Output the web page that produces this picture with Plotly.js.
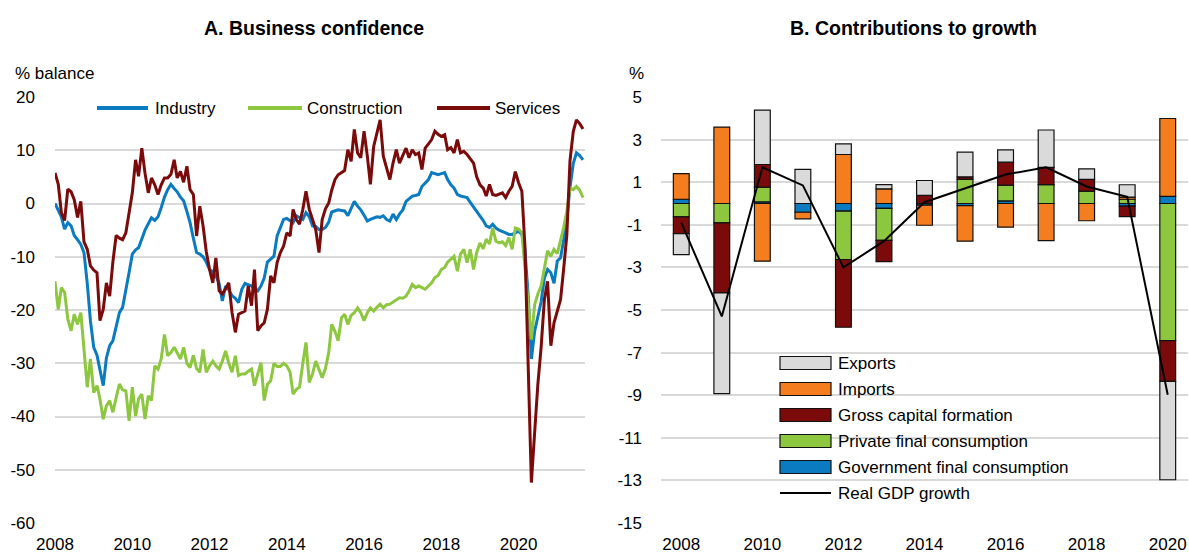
<!DOCTYPE html>
<html>
<head>
<meta charset="utf-8">
<script src="https://cdn.plot.ly/plotly-3.0.1.min.js"></script>
<style>
  body { margin: 0; background: #fff; }
  #chart { width: 1189px; height: 556px; }
</style>
</head>
<body>
<div id="chart"></div>
<script>
// Panel A: business confidence, monthly % balance from Jan 2008
const industry = [
  0, -1.2, -2.5, -4.8, -3.6, -4.2, -6, -6.8, -7.7, -9.2,
  -15, -22, -27, -28.5, -31, -34.2, -29, -26.7, -25.8, -23,
  -20.5, -19.5, -16.5, -13, -9.5, -8.7, -8.3, -6.5, -5, -3.8,
  -2.7, -3.2, -2.5, -0.8, 1.2, 2.6, 3.6, 2.8, 2.2, 1.2,
  0.5, -1.5, -3.6, -6.5, -9.2, -9.5, -10, -11, -12.4, -12.8,
  -13.6, -15, -18.3, -15.5, -16.2, -17.3, -17.8, -18.6, -16.1, -15,
  -15.2, -15.5, -16, -16.4, -15.5, -14, -11, -10.5, -9.9, -6.1,
  -4.5, -3, -2.8, -3.2, -3.6, -2.3, -2.6, -3, -1.7, -2.5,
  -4.2, -4.3, -4.9, -4.9, -4.5, -3.5, -1.6, -1.4, -1.2, -1.3,
  -1.4, -2.3, -1, 0.4, -0.5, -1.2, -2.2, -3.3, -3, -2.7,
  -2.5, -2.6, -2.3, -3, -3.3, -2, -3, -2, -1.2, 0.4,
  0.8, 1.4, 1.5, 1.7, 3.2, 3.8, 4.5, 5.8, 5.6, 5.4,
  5.6, 5.8, 4.5, 3.5, 2.9, 1.7, 1.4, 1.2, 1.1, 0.2,
  -0.6, -1.5, -2.3, -3.2, -4.2, -4.5, -3.9, -4.6, -5, -5.2,
  -5.5, -5.8, -5.8, -5.5, -5.2, -5.8, -8.6, -17.4, -29.2, -24,
  -21, -18.5, -14, -12.4, -13, -15, -10.8, -10.2, -7, -3,
  3, 7.5, 9.5, 9, 8.2
];
const construction = [
  -14.6, -19.9, -15.8, -16.7, -21.7, -23.9, -20.8, -22.7, -20.5, -28,
  -34.5, -29.2, -35.5, -34.2, -36.7, -40.5, -38, -37, -39.2, -36.5,
  -33.9, -35, -35.2, -40.8, -34.5, -39.9, -36.7, -35.8, -40.5, -36.1,
  -37, -30.5, -31.1, -29.2, -24.6, -28.6, -28, -27, -28, -29.2,
  -27, -30, -30.8, -28.5, -31, -31.7, -27.4, -31.7, -30.5, -29.6,
  -30.5, -31.1, -29.6, -27.7, -30, -31.7, -28.6, -32.3, -32, -32,
  -31.5, -31.1, -34.2, -32, -29.9, -37, -34, -33.3, -30, -30.6,
  -30.6, -30, -30.5, -31.7, -35.8, -34.9, -34.5, -30, -26.1, -33.6,
  -32, -29.6, -31, -32.7, -31, -28, -22.7, -24, -25.8, -21.5,
  -20.8, -22.7, -21, -20.5, -19.6, -20.5, -22, -20.5, -19.6, -20.2,
  -19.5, -18.9, -19.6, -19, -18.9, -18.5, -18, -17.7, -17.8, -17.4,
  -16.5, -15.2, -15.8, -15.5, -15.8, -16.1, -15.5, -14.9, -13.9, -13.5,
  -12.4, -12, -11, -10.5, -9.9, -12.7, -9.5, -8.6, -11.1, -8.6,
  -12.4, -9.2, -7.4, -8.5, -6.7, -7.6, -4.6, -7.1, -7.4, -7.2,
  -7.9, -6.4, -8.6, -4.6, -4.8, -5.5, -12, -20, -25.5, -19,
  -17, -15.5, -12, -8.9, -9.9, -8.6, -9.4, -7.1, -4.6, -1.5,
  2.9, 2.6, 3.2, 2.5, 1.1
];
const services = [
  5.75, 3.6, -1.7, -3.2, 2.7, 2.2, 0.7, -2.6, 0.4, -7.2,
  -8.6, -11.7, -12.5, -13, -22, -19.9, -14.9, -17.4, -11, -6,
  -6.5, -6.8, -5.5, -2, 2, 8.2, 5.1, 10.4, 5.7, 2,
  4.8, 3.5, 1.7, 3.5, 4.8, 4.8, 5.5, 8.2, 4.8, 6,
  4, 7, 2.6, 1.7, -6.1, -0.5, -4.2, -9, -12.4, -14.9,
  -10.2, -16.4, -17, -16, -14.9, -20.5, -24.2, -20.8, -20.5, -20.2,
  -15.5, -19.2, -12.4, -23.9, -23, -22.4, -19.9, -13.6, -14.9, -11.1,
  -9.2, -8, -5.5, -6.1, -1.1, -3, -3.9, -1.1, 2.3, -1.1,
  -3, -4.9, -9.2, -3, -1, 0.1, 2.5, 4.5, 5.4, 5.8,
  6.2, 10.1, 7.9, 13.9, 9.5, 8.6, 13.6, 8.9, 3.6, 10.7,
  13, 15.7, 8.9, 6.5, 4.5, 7.6, 10.1, 7.6, 9, 10.4,
  8.6, 10.1, 9.2, 9.5, 6.4, 10.4, 11.2, 12, 13.6, 13,
  12.6, 12.9, 10.1, 10.5, 9.5, 12, 9.5, 9.8, 9.2, 8.4,
  7.6, 5, 3.5, 2.9, 1.4, 3.6, 1.7, 1.5, 1.7, 2,
  1.1, 2.3, 3.2, 6, 3.9, 2.3, -8, -32, -52.4, -43,
  -34, -27, -18, -14.6, -26.7, -22.4, -20, -18, -12.5, -6,
  8, 13.5, 15.7, 15, 14
];

// Panel B: contributions to growth, % points
const years = ['2008', '2009', '2010', '2011', '2012', '2013', '2014',
  '2015', '2016', '2017', '2018', '2019', '2020'];
const govCons = [0.2, null, 0.08, -0.41, -0.36, -0.23, -0.08, -0.1, 0.12, null, null, -0.12, 0.33];
const privCons = [-0.63, -0.91, 0.69, null, -2.27, -1.5, null, 1.13, 0.74, 0.89, 0.58, 0.2, -6.44];
const capForm = [-0.78, -3.29, 1.06, null, -3.18, -1.0, 0.38, 0.12, 1.08, 0.81, 0.55, -0.5, -1.91];
const imports = [1.2, 3.59, -2.71, -0.31, 2.3, 0.69, -0.94, -1.67, -1.11, -1.74, -0.81, 0.1, 3.66];
const exports = [-0.99, -4.73, 2.55, 1.6, 0.5, 0.2, 0.7, 1.16, 0.58, 1.75, 0.5, 0.58, -4.62];
const gdpGrowth = [-0.9, -5.3, 1.7, 0.85, -3.0, -1.77, 0.06, 0.72, 1.36, 1.7, 0.8, 0.31, -8.98];

const yTicksA = [20, 10, 0, -10, -20, -30, -40, -50, -60];
const yTicksB = [5, 3, 1, -1, -3, -5, -7, -9, -11, -13, -15];
const xLabelsA = ['2008', '2010', '2012', '2014', '2016', '2018', '2020'];
const xLabelsB = ['2008', '2010', '2012', '2014', '2016', '2018', '2020'];

const FONT = '"Liberation Sans", Arial, sans-serif';
const FS = 17;

function monthDates(startYear, n) {
  let out = [];
  for (let i = 0; i < n; i++) {
    let y = startYear + Math.floor(i / 12);
    let m = (i % 12) + 1;
    out.push(y + '-' + String(m).padStart(2, '0') + '-01');
  }
  return out;
}

// plotly puts a unicode minus by default, the original has a plain hyphen
function tickText(vals) {
  return vals.map(v => String(v));
}

const months = monthDates(2008, industry.length);
const yearTicks = xLabelsA.map(y => y + '-01-01');
const rangeA = ['2008-01-01', '2021-09-20'];

const W = 1133, H = 426, L = 55, T = 97;
const px = v => (v - L) / W;
const py = v => (T + H - v) / H;

let lineSeries = [
  ['Industry', industry, '#0b7bc1'],
  ['Construction', construction, '#8dc63f'],
  ['Services', services, '#7b0a0a']
];
let bars = [
  ['Government final consumption', govCons, '#0b7bc1'],
  ['Private final consumption', privCons, '#8dc63f'],
  ['Gross capital formation', capForm, '#7b0a0a'],
  ['Imports', imports, '#f47d20'],
  ['Exports', exports, '#dadada']
];

let traces = [];
lineSeries.forEach(s => {
  traces.push({
    x: months, y: s[1], name: s[0], type: 'scatter', mode: 'lines',
    line: { color: s[2], width: 3 }, xaxis: 'x', yaxis: 'y', showlegend: false
  });
});
bars.forEach(b => {
  traces.push({
    x: years, y: b[1], name: b[0], type: 'bar', width: 0.39,
    marker: { color: b[2], line: { color: '#111', width: 1.2 } },
    xaxis: 'x2', yaxis: 'y2', showlegend: false
  });
});
traces.push({
  x: years, y: gdpGrowth, name: 'Real GDP growth', type: 'scatter', mode: 'lines',
  line: { color: '#000', width: 2 }, xaxis: 'x2', yaxis: 'y2', showlegend: false
});

// legends drawn by hand so the swatches get the wide OECD look
let shapes = [];
let annotations = [
  { text: '<b>A. Business confidence</b>', x: px(314), y: py(28), font: { size: 19.5 } },
  { text: '<b>B. Contributions to growth</b>', x: px(913), y: py(28), font: { size: 19.5 } },
  { text: '% balance', x: px(13), y: py(73), xanchor: 'left' },
  { text: '%', x: px(627), y: py(73), xanchor: 'left' }
];

const legendA = [[97, 148, 153], [248, 302, 305], [437, 490, 493]];
lineSeries.forEach((s, i) => {
  let p = legendA[i];
  shapes.push({ type: 'line', x0: px(p[0]), x1: px(p[1]), y0: py(108), y1: py(108),
    line: { color: s[2], width: 4 } });
  annotations.push({ text: s[0], x: px(p[2]), y: py(108), xanchor: 'left' });
});

let legendB = bars.slice().reverse();
legendB.forEach((b, i) => {
  let yc = 363 + i * 26;
  shapes.push({ type: 'rect', x0: px(780), x1: px(831), y0: py(yc - 6.5), y1: py(yc + 6.5),
    fillcolor: b[2], line: { color: '#111', width: 1.2 } });
  annotations.push({ text: b[0], x: px(836), y: py(yc), xanchor: 'left' });
});
shapes.push({ type: 'line', x0: px(780), x1: px(831), y0: py(493), y1: py(493),
  line: { color: '#000', width: 2 } });
annotations.push({ text: 'Real GDP growth', x: px(836), y: py(493), xanchor: 'left' });

annotations = annotations.map(a => Object.assign({
  xref: 'paper', yref: 'paper', xanchor: 'center', yanchor: 'middle', showarrow: false
}, a));
shapes = shapes.map(s => Object.assign({ xref: 'paper', yref: 'paper' }, s));

let layout = {
  width: 1189,
  height: 556,
  margin: { l: L, r: 1189 - L - W, t: T, b: 556 - T - H },
  paper_bgcolor: '#fff',
  plot_bgcolor: '#fff',
  font: { family: FONT, size: FS, color: '#000' },
  barmode: 'relative',
  showlegend: false,
  xaxis: {
    domain: [0, px(585)], type: 'date', range: rangeA,
    tickvals: yearTicks, ticktext: xLabelsA, ticks: '',
    showgrid: false, zeroline: false, showline: false,
    ticklabelstandoff: 9, fixedrange: true
  },
  xaxis3: {
    overlaying: 'x', anchor: 'free', position: 0.75, type: 'date', range: rangeA,
    tickvals: yearTicks, showticklabels: false, ticks: 'inside', ticklen: 8,
    tickwidth: 1.5, tickcolor: '#000', showline: true, linecolor: '#000', linewidth: 2,
    showgrid: false, zeroline: false, layer: 'below traces', fixedrange: true
  },
  yaxis: {
    domain: [0, 1], range: [-60, 20], anchor: 'x',
    tickvals: yTicksA, ticktext: tickText(yTicksA), ticks: '',
    showgrid: true, gridcolor: '#d9d9d9', gridwidth: 2, zeroline: false,
    ticklabelstandoff: 19, fixedrange: true
  },
  xaxis2: {
    domain: [px(661), 1], type: 'category', range: [-0.5, 12.5], anchor: 'y2',
    tickvals: xLabelsB, ticktext: xLabelsB, ticks: '',
    showgrid: false, zeroline: false, showline: false,
    ticklabelstandoff: 9, fixedrange: true
  },
  xaxis4: {
    overlaying: 'x2', anchor: 'free', position: 0.75, type: 'linear', range: [-0.5, 12.5],
    tick0: -0.5, dtick: 1, showticklabels: false, ticks: 'inside', ticklen: 8,
    tickwidth: 1.5, tickcolor: '#000', showline: true, linecolor: '#000', linewidth: 2,
    showgrid: false, zeroline: false, layer: 'below traces', fixedrange: true
  },
  yaxis2: {
    domain: [0, 1], range: [-15, 5], anchor: 'x2',
    tickvals: yTicksB, ticktext: tickText(yTicksB), ticks: '',
    showgrid: true, gridcolor: '#d9d9d9', gridwidth: 2, zeroline: false,
    ticklabelstandoff: 18, fixedrange: true
  },
  shapes: shapes,
  annotations: annotations
};

Plotly.newPlot('chart', traces, layout, { displayModeBar: false, staticPlot: true });
</script>
</body>
</html>
